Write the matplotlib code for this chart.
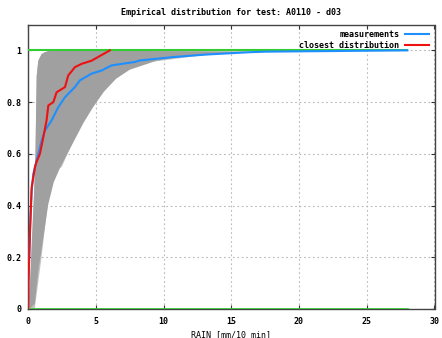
import numpy as np
import matplotlib
matplotlib.use('Agg')
import matplotlib.pyplot as plt

# measured empirical CDF (blue)
meas_x = [0, 0.03, 0.15, 0.27, 0.39, 0.52, 0.76, 1.0, 1.25, 1.74, 2.23, 2.73, 3.46, 3.83,
          4.69, 5.43, 6.17, 7.88, 8.25, 10.7, 13.2, 16.4, 17.6, 23.7, 28]
meas_y = [0, 0.1, 0.315, 0.457, 0.522, 0.55, 0.60, 0.65, 0.69, 0.729, 0.78, 0.819, 0.858, 0.884,
          0.91, 0.922, 0.942, 0.955, 0.961, 0.974, 0.984, 0.993, 0.995, 0.998, 1.0]

# closest distribution (red)
close_x = [0, 0.03, 0.15, 0.27, 0.52, 0.64, 0.88, 1.13, 1.37, 1.50, 1.87, 2.11, 2.73, 2.97,
           3.46, 3.96, 4.69, 6.04]
close_y = [0, 0.1, 0.30, 0.47, 0.55, 0.57, 0.60, 0.664, 0.729, 0.787, 0.80, 0.838, 0.858, 0.903,
           0.935, 0.948, 0.96, 1.0]

# envelope of the simulated CDFs (gray band)
upper_x = [0, 0.15, 0.3, 0.45, 0.55, 0.64, 0.76, 1.0, 1.25, 1.7]
upper_y = [0, 0.1, 0.28, 0.45, 0.6, 0.9, 0.96, 0.985, 0.993, 1.0]
dense_x = [0.1, 0.5, 0.76, 1.13, 1.5, 1.9, 2.4, 2.9, 3.5, 4.1, 4.8, 5.6, 6.5, 7.5, 9.5, 11, 13, 16.4]
dense_y = [0, 0.02, 0.147, 0.276, 0.406, 0.49, 0.55, 0.6, 0.66, 0.72, 0.78, 0.84, 0.89, 0.925,
           0.96, 0.972, 0.985, 0.995]
sparse_x = [0.5, 1.0, 1.6, 2.1, 2.5, 3.0, 3.7, 4.4, 5.1, 5.7, 6.4, 7.2, 7.9, 9, 11, 13, 16.4]
sparse_y = [0.0, 0.2, 0.47, 0.535, 0.55, 0.61, 0.69, 0.755, 0.806, 0.858, 0.897, 0.922, 0.935,
            0.955, 0.968, 0.982, 0.995]

plt.rcParams['font.family'] = ['DejaVu Sans Mono']
plt.rcParams['font.weight'] = 'bold'
plt.rcParams['font.size'] = 6.0

fig = plt.figure(figsize=(4.42, 3.38), dpi=100)
ax = fig.add_axes([28/442, 29/338, 406.5/442, 284.5/338])

ax.fill(np.concatenate([upper_x, sparse_x[::-1]]), np.concatenate([upper_y, sparse_y[::-1]]),
        color='#c4c4c4', lw=0)
ax.fill(np.concatenate([upper_x, dense_x[::-1]]), np.concatenate([upper_y, dense_y[::-1]]),
        color='#a0a0a0', lw=0)

ax.plot([0, 28], [1, 1], color='#33cc33', lw=1.5, zorder=3)
ax.plot([0, 28], [0, 0], color='#33cc33', lw=2, zorder=3)
ax.plot(meas_x, meas_y, color='#1e8fff', lw=1.5, label='measurements', zorder=4)
ax.plot(close_x, close_y, color='#ee1111', lw=1.5, label='closest distribution', zorder=5)

ax.set_xlim(0, 30)
ax.set_ylim(0, 1.1)
ax.set_xticks(np.arange(0, 31, 5))
ax.set_yticks([0, 0.2, 0.4, 0.6, 0.8, 1])
ax.set_yticklabels(['0', '0.2', '0.4', '0.6', '0.8', '1'])
ax.grid(True, color='#b8b8b8', linestyle=(0, (1.5, 2.5)), lw=0.8)
ax.set_axisbelow(True)
ax.tick_params(axis='y', direction='in', length=3, right=True, pad=5, colors='#333333', labelcolor='black')
ax.tick_params(axis='x', direction='in', length=3, top=True, pad=6, colors='#333333', labelcolor='black')
for s in ax.spines.values():
    s.set_color('#444444')
    s.set_linewidth(1)

ax.set_title('Empirical distribution for test: A0110 - d03', pad=7, fontweight='bold', fontsize=6.0)
ax.set_xlabel('RAIN [mm/10 min]', labelpad=3)

ax.legend(loc='upper right', frameon=False, markerfirst=False, handlelength=2.8,
          borderaxespad=0.3, labelspacing=0.15, handletextpad=0.7)

fig.savefig('out.png', dpi=100)
